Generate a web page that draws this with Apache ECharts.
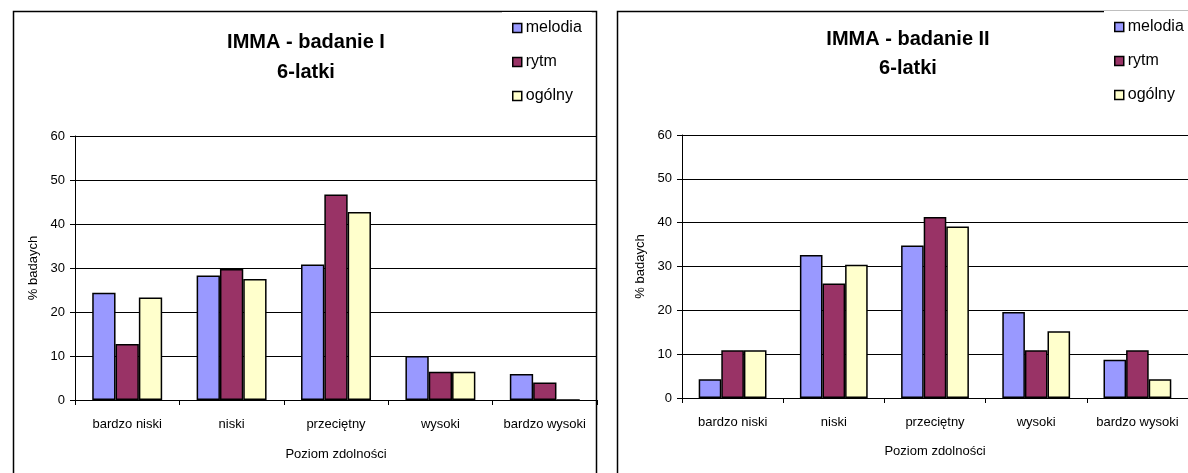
<!DOCTYPE html>
<html>
<head>
<meta charset="utf-8">
<script src="https://cdn.jsdelivr.net/npm/echarts@6/dist/echarts.min.js"></script>
<style>
html,body{margin:0;padding:0;background:#fff;}
#c{width:1188px;height:473px;}
</style>
</head>
<body>
<div id="c"></div>
<script>
var categories = ['bardzo niski', 'niski', 'przeciętny', 'wysoki', 'bardzo wysoki'];
var seriesNames = ['melodia', 'rytm', 'ogólny'];
var seriesColors = ['#9999FF', '#993366', '#FFFFCC'];
var yTicks = [0, 10, 20, 30, 40, 50, 60];

var title1 = 'IMMA - badanie I\n6-latki';
var title2 = 'IMMA - badanie II\n6-latki';
var xName = 'Poziom zdolności';
var yName = '% badaych';

var melodia1 = [24.4, 28.3, 30.8, 10.0, 5.9];
var rytm1 = [12.7, 29.8, 46.7, 6.4, 4.0];
var ogolny1 = [23.3, 27.5, 42.7, 6.4, 0];

var melodia2 = [4.3, 32.6, 34.8, 19.6, 8.7];
var rytm2 = [10.9, 26.1, 41.3, 10.9, 10.9];
var ogolny2 = [10.9, 30.4, 39.1, 15.2, 4.3];

var FONT = 'Liberation Sans, Arial, sans-serif';
var chart = echarts.init(document.getElementById('c'), null, {renderer: 'canvas'});

function xAx(gi, gap) {
  return {
    type: 'category', gridIndex: gi, data: categories,
    name: xName, nameLocation: 'middle', nameGap: gap,
    nameTextStyle: {fontFamily: FONT, fontSize: 13, color: '#000'},
    axisLine: {show: true, lineStyle: {color: '#000', width: 1}},
    axisTick: {show: true, alignWithLabel: false, length: 5, lineStyle: {color: '#000'}},
    axisLabel: {fontFamily: FONT, fontSize: 13, color: '#000', margin: 18, interval: 0},
    splitLine: {show: false}
  };
}
function yAx(gi) {
  return {
    type: 'value', gridIndex: gi, min: yTicks[0], max: yTicks[yTicks.length - 1], interval: 10,
    name: yName, nameLocation: 'middle', nameGap: 35, nameRotate: 90,
    nameTextStyle: {fontFamily: FONT, fontSize: 13, color: '#000'},
    axisLine: {show: true, lineStyle: {color: '#000', width: 1}},
    axisTick: {show: true, length: 5, lineStyle: {color: '#000'}},
    axisLabel: {fontFamily: FONT, fontSize: 13, color: '#000', margin: 10},
    splitLine: {show: true, lineStyle: {color: '#000', width: 1}}
  };
}
function bars(gi, arrs) {
  return arrs.map(function (d, i) {
    return {
      type: 'bar', name: seriesNames[i], xAxisIndex: gi, yAxisIndex: gi, data: d,
      barCategoryGap: '33%', barGap: '0%',
      itemStyle: {color: seriesColors[i], borderColor: '#000', borderWidth: 1.5},
      emphasis: {disabled: true}
    };
  });
}
function legend(left, top) {
  return {
    orient: 'vertical', left: left, top: top, data: seriesNames,
    icon: 'rect', itemWidth: 9, itemHeight: 9, itemGap: 18,
    backgroundColor: '#fff', padding: [8, 10, 8, 10],
    textStyle: {fontFamily: FONT, fontSize: 16, color: '#000', padding: [0, 0, 0, -1]},
    itemStyle: {borderColor: '#000', borderWidth: 1.5},
    selectedMode: false, z: 10
  };
}

chart.setOption({
  animation: false,
  backgroundColor: '#fff',
  title: [
    {text: title1, left: 306, top: 27, textAlign: 'center', padding: 0,
     textStyle: {fontFamily: FONT, fontSize: 20, fontWeight: 'bold', color: '#000', lineHeight: 30}},
    {text: title2, left: 908, top: 25, textAlign: 'center', padding: 0,
     textStyle: {fontFamily: FONT, fontSize: 20, fontWeight: 'bold', color: '#000', lineHeight: 29}}
  ],
  legend: [legend(502, 12), legend(1104, 11)],
  grid: [
    {left: 75, top: 136, width: 522, height: 264},
    {left: 682, top: 135, width: 518.5, height: 263}
  ],
  xAxis: [xAx(0, 48), xAx(1, 47)],
  yAxis: [yAx(0), yAx(1)],
  series: bars(0, [melodia1, rytm1, ogolny1]).concat(bars(1, [melodia2, rytm2, ogolny2])),
  graphic: [
    {type: 'rect', left: 11, top: 9, shape: {x: 0, y: 0, width: 583, height: 500}, z: -1,
     style: {fill: null, stroke: '#000', lineWidth: 1.5}},
    {type: 'rect', left: 615, top: 9, shape: {x: 0, y: 0, width: 700, height: 500}, z: -1,
     style: {fill: null, stroke: '#000', lineWidth: 1.5}}
  ]
});
</script>
</body>
</html>
